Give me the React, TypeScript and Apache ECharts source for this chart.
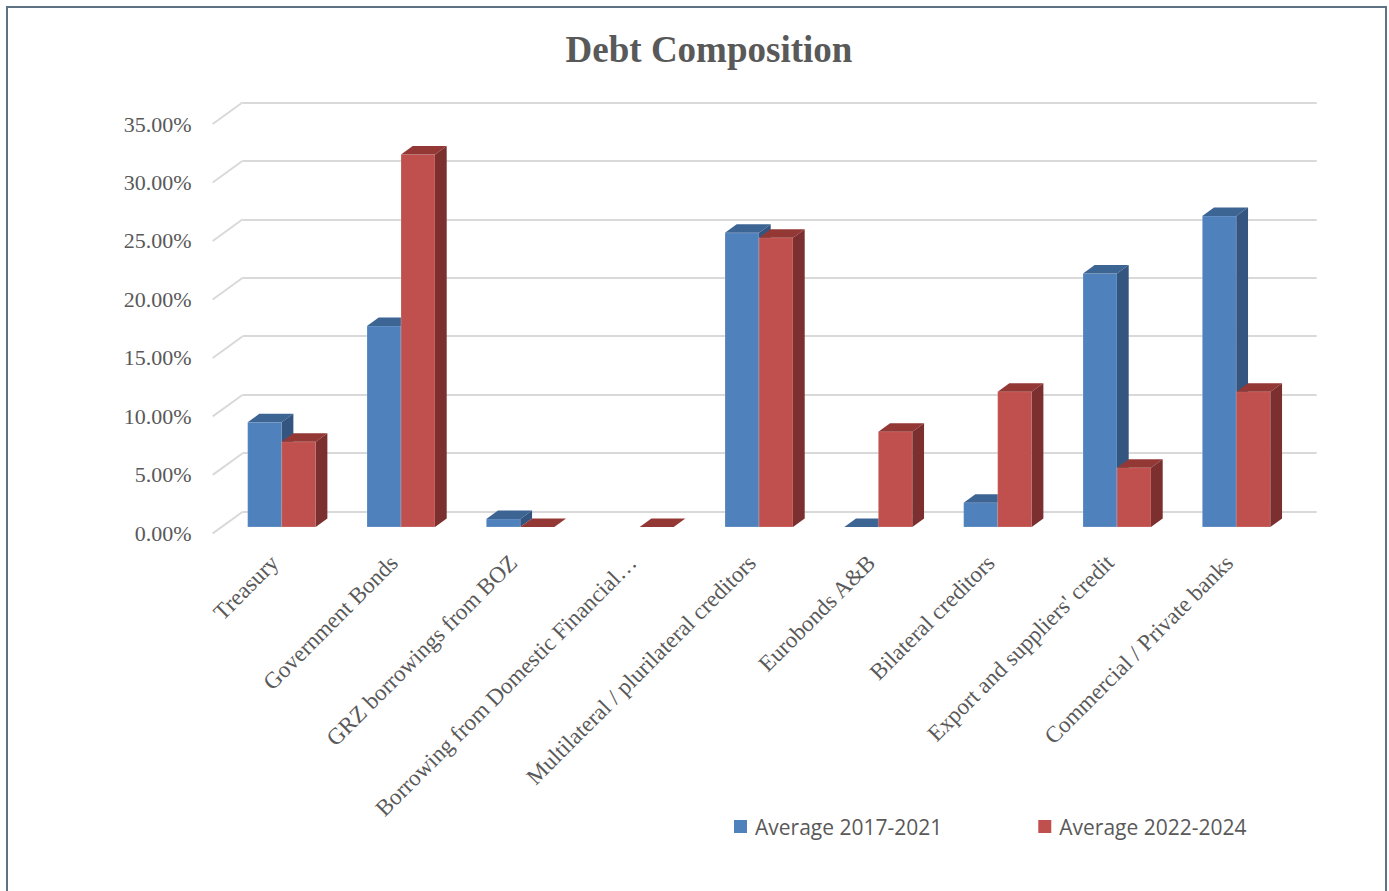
import React, { useEffect, useRef } from "react";
import * as echarts from "echarts";

const categories = [
  "Treasury",
  "Government Bonds",
  "GRZ borrowings from BOZ",
  "Borrowing from Domestic Financial…",
  "Multilateral / plurilateral creditors",
  "Eurobonds A&B",
  "Bilateral creditors",
  "Export and suppliers' credit",
  "Commercial / Private banks",
];
const seriesNames = ["Average 2017-2021", "Average 2022-2024"];
const avg2017_2021: (number | null)[] = [0.0895, 0.1718, 0.0069, null, 0.2515, 0, 0.0208, 0.2168, 0.2658];
const avg2022_2024: (number | null)[] = [0.0729, 0.3185, 0, 0, 0.2473, 0.0815, 0.1157, 0.0507, 0.1157];
const yTicks = [0, 0.05, 0.1, 0.15, 0.2, 0.25, 0.3, 0.35];

// styling / geometry constants
const GREY = "#595959";
const GRID_LINE = "#d9d9d9";
const WALL_DX = 30;
const WALL_DY = 21.7;
const BAR_DX = 11.7;
const BAR_DY = 8.5;
const BAR_FRAC = 0.285;
const COLORS = [
  { front: "#4f81bd", top: "#3c6594", side: "#33557f" },
  { front: "#c0504d", top: "#943836", side: "#7b2f2f" },
];

function makeBarRender(seriesIdx: number) {
  return (params: any, api: any) => {
    const v = api.value(1);
    if (v === null || v === undefined || isNaN(v)) return null;
    const idx = api.value(0);
    const band = api.size([1, 0])[0];
    const w = band * BAR_FRAC;
    const center = api.coord([idx, 0]);
    const bottom = center[1];
    const top = api.coord([idx, v])[1];
    const x0 = seriesIdx === 0 ? center[0] - w : center[0];
    const c = COLORS[seriesIdx];
    return {
      type: "group",
      children: [
        {
          type: "rect",
          shape: { x: x0, y: top, width: w, height: Math.max(bottom - top, 0) },
          style: { fill: c.front, stroke: "rgba(255,255,255,0.25)", lineWidth: 0.8 },
        },
        {
          type: "polygon",
          shape: {
            points: [
              [x0, top],
              [x0 + w, top],
              [x0 + w + BAR_DX, top - BAR_DY],
              [x0 + BAR_DX, top - BAR_DY],
            ],
          },
          style: { fill: c.top },
        },
        {
          type: "polygon",
          shape: {
            points: [
              [x0 + w, top],
              [x0 + w + BAR_DX, top - BAR_DY],
              [x0 + w + BAR_DX, bottom - BAR_DY],
              [x0 + w, bottom],
            ],
          },
          style: { fill: c.side },
        },
      ],
    };
  };
}

export default function App() {
  const ref = useRef<HTMLDivElement>(null);
  useEffect(() => {
    if (!ref.current) return;
    const chart = echarts.init(ref.current, null, { renderer: "svg" });
    const plotW = 1074;
    const plotH = 409.4;
    const yBase = {
      type: "value",
      min: 0,
      max: 0.35,
      interval: 0.05,
      axisLine: { show: false },
      axisTick: { show: false },
    };
    chart.setOption({
      animation: false,
      backgroundColor: "#ffffff",
      graphic: [
        {
          type: "rect",
          shape: { x: 7, y: 7, width: 1379, height: 910 },
          style: { fill: "none", stroke: "#5f7283", lineWidth: 2 },
          silent: true,
        },
        {
          type: "text",
          x: 709,
          y: 49,
          style: {
            text: "Debt Composition",
            fill: GREY,
            font: "bold 37px 'Liberation Serif', serif",
            textAlign: "center",
            textVerticalAlign: "middle",
          },
        },
      ],
      legend: {
        data: seriesNames,
        left: 729,
        top: 811,
        itemGap: 96,
        itemWidth: 13,
        itemHeight: 13,
        icon: "rect",
        textStyle: { color: GREY, fontSize: 21, fontFamily: "'Open Sans', sans-serif", padding: [0, 0, 0, 3] },
      },
      grid: [
        { left: 242.7, top: 102.3, width: plotW, height: plotH },
        { left: 212.7, top: 124, width: plotW, height: plotH },
        { left: 222, top: 527 - plotH, width: plotW, height: plotH },
        { left: 215, top: 527 - plotH, width: plotW, height: plotH },
      ],
      xAxis: [
        { type: "category", gridIndex: 0, data: categories, show: false },
        { type: "category", gridIndex: 1, data: categories, show: false },
        { type: "category", gridIndex: 2, data: categories, show: false },
        {
          type: "category",
          gridIndex: 3,
          data: categories,
          axisLine: { show: false },
          axisTick: { show: false },
          axisLabel: {
            rotate: 45,
            interval: 0,
            margin: 32,
            color: GREY,
            fontSize: 23,
            fontFamily: "'Liberation Serif', serif",
          },
        },
      ],
      yAxis: [
        {
          ...yBase,
          gridIndex: 0,
          axisLabel: { show: false },
          splitLine: { show: true, lineStyle: { color: GRID_LINE, width: 2 } },
        },
        {
          ...yBase,
          gridIndex: 1,
          splitLine: { show: false },
          axisLabel: {
            margin: 21,
            color: GREY,
            fontSize: 22,
            fontFamily: "'Liberation Serif', serif",
            formatter: (v: number) => (v * 100).toFixed(2) + "%",
          },
        },
        { ...yBase, gridIndex: 2, show: false, splitLine: { show: false } },
        { ...yBase, gridIndex: 3, show: false, splitLine: { show: false } },
      ],
      series: [
        {
          type: "custom",
          name: "wall",
          xAxisIndex: 0,
          yAxisIndex: 0,
          silent: true,
          data: yTicks.map((t) => [0, t]),
          renderItem: (params: any, api: any) => {
            const cs = params.coordSys;
            const y = api.coord([0, api.value(1)])[1];
            return {
              type: "line",
              shape: { x1: cs.x, y1: y, x2: cs.x - WALL_DX, y2: y + WALL_DY },
              style: { stroke: GRID_LINE, lineWidth: 2 },
            };
          },
          z: 1,
        },
        {
          type: "custom",
          name: seriesNames[0],
          xAxisIndex: 2,
          yAxisIndex: 2,
          itemStyle: { color: COLORS[0].front },
          data: avg2017_2021.map((v, i) => [i, v === null ? NaN : v]),
          renderItem: makeBarRender(0),
          z: 3,
        },
        {
          type: "custom",
          name: seriesNames[1],
          xAxisIndex: 2,
          yAxisIndex: 2,
          itemStyle: { color: COLORS[1].front },
          data: avg2022_2024.map((v, i) => [i, v === null ? NaN : v]),
          renderItem: makeBarRender(1),
          z: 4,
        },
      ],
    });
    return () => chart.dispose();
  }, []);
  return (
    <div
      ref={ref}
      style={{ position: "absolute", left: 0, top: 0, width: 1389, height: 891 }}
    />
  );
}
